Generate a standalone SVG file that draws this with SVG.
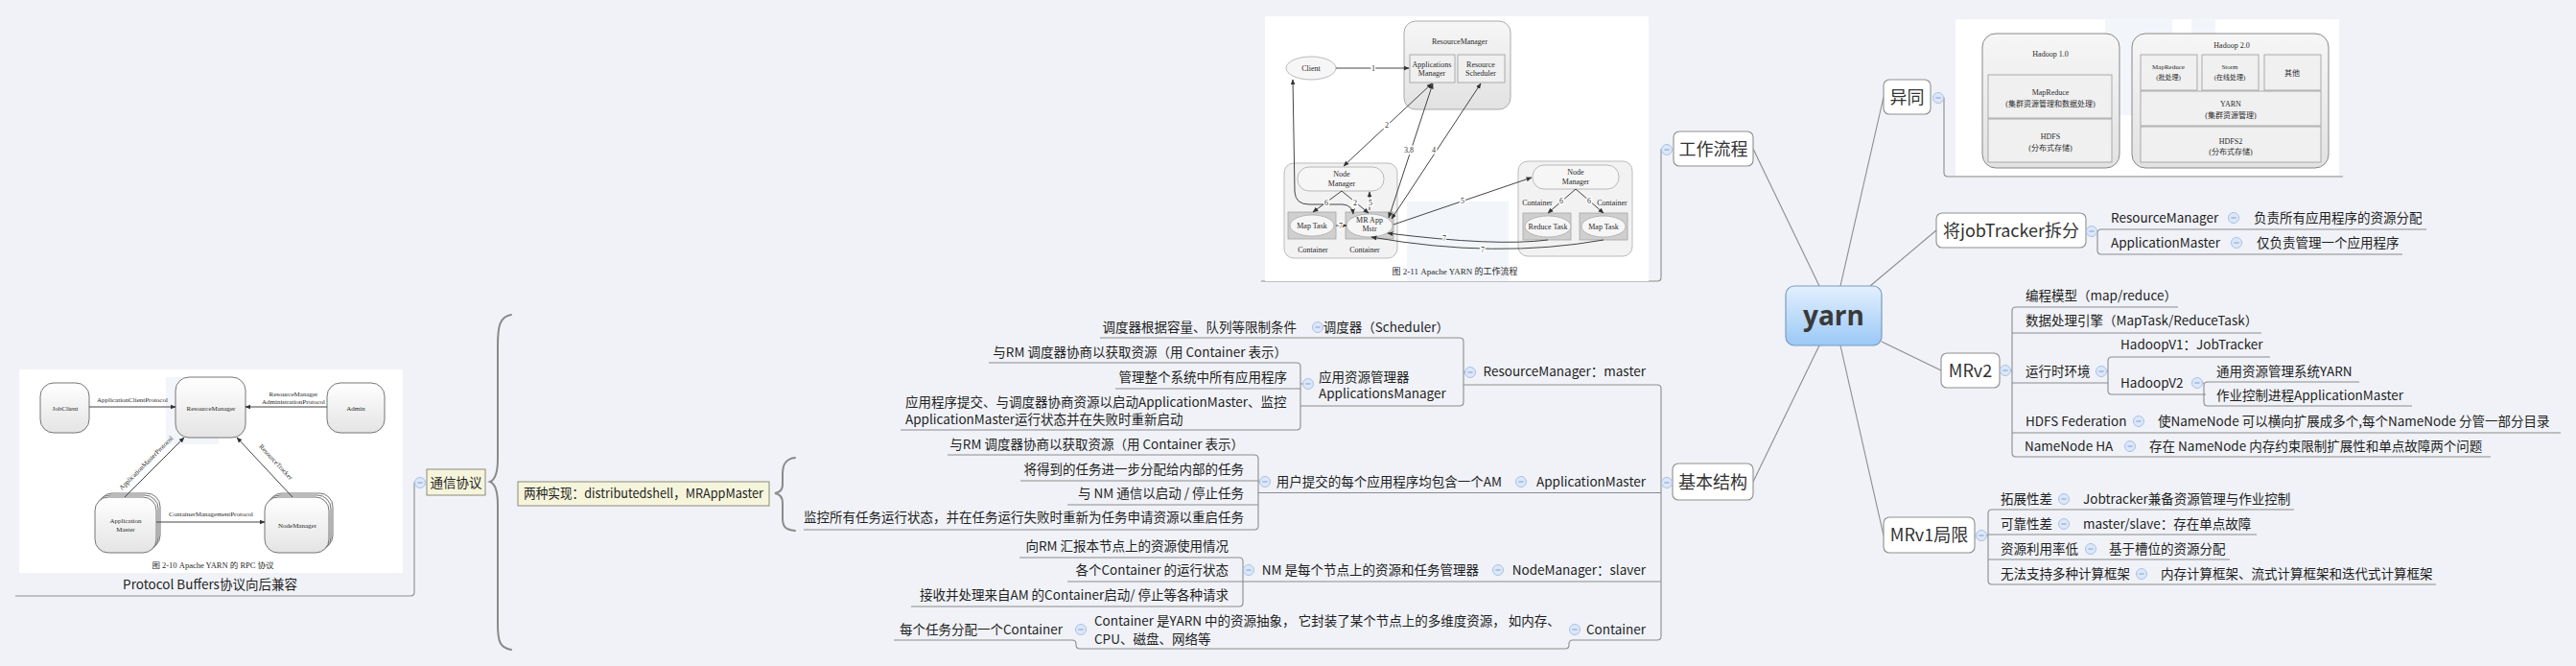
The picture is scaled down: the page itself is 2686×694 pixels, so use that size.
<svg xmlns="http://www.w3.org/2000/svg" xmlns:xlink="http://www.w3.org/1999/xlink" width="2686" height="694" viewBox="0 0 2686 694">
<style>
.ln{fill:none;stroke:#8c8c8c;stroke-width:1.1}
.tp{fill:#fff;stroke:#8f8f8f;stroke-width:1.1}
.tt{font-family:"Noto Sans CJK SC","Noto Sans",sans-serif;font-size:18px;fill:#333;text-anchor:middle}
.s{font-family:"Noto Sans CJK SC","Noto Sans",sans-serif;font-size:13.5px;fill:#1e1e1e}
.e{text-anchor:end}
.cb{fill:#f6f5dc;stroke:#8a8a7a;stroke-width:1}
.img{fill:#fff}
.ser{font-family:"Liberation Serif","Noto Sans CJK SC",serif;fill:#2a2a2a;text-anchor:middle}
.w8{font-size:8px}
.w7{font-size:7px}
.lb{font-family:"Liberation Serif",serif;font-size:8px;fill:#333;text-anchor:middle;paint-order:stroke;stroke:#fff;stroke-width:3}
.al{fill:none;stroke:#444;stroke-width:1}
.bx{fill:#f0f0f0;stroke:#9a9a9a;stroke-width:0.8}
.gb{fill:#cfcfcf;stroke:#a5a5a5;stroke-width:0.8}
.el{fill:#f6f6f6;stroke:#aaa;stroke-width:0.8}
.rb{fill:url(#rg);stroke:#666;stroke-width:0.9}
.br{fill:none;stroke:#8a8a8a;stroke-width:2;stroke-linecap:round}
</style>
<defs>
<linearGradient id="yg" x1="0" y1="0" x2="0" y2="1"><stop offset="0" stop-color="#e3f0fe"/><stop offset="1" stop-color="#9ac8f6"/></linearGradient>
<linearGradient id="gg" x1="0" y1="0" x2="0" y2="1"><stop offset="0" stop-color="#f6f6f6"/><stop offset="1" stop-color="#e2e2e2"/></linearGradient>
<linearGradient id="rg" x1="0" y1="0" x2="0" y2="1"><stop offset="0" stop-color="#ffffff"/><stop offset="1" stop-color="#e4e4e4"/></linearGradient>
<marker id="ah" viewBox="0 0 10 10" refX="9" refY="5" markerWidth="6" markerHeight="6" markerUnits="userSpaceOnUse" orient="auto-start-reverse"><path d="M0,1 L10,5 L0,9 z" fill="#333"/></marker>
<g id="cl"><circle r="5.5" fill="#dce7f8" stroke="#a9c1e7" stroke-width="1"/><path d="M-2.6,0 H2.6" stroke="#7f9fd3" stroke-width="1"/></g>
</defs>
<rect width="2686" height="694" fill="#f0f2f7"/>

<g id="connectors">
<path class="ln" d="M1897,298 L1828,155"/>
<path class="ln" d="M1919,298 L1964,101"/>
<path class="ln" d="M1950,298 L2019,240"/>
<path class="ln" d="M1962,356 L2024,386"/>
<path class="ln" d="M1897,360 L1828,502"/>
<path class="ln" d="M1919,360 L1964,558"/>
<path class="ln" d="M2026,102 H2027 V180 Q2027,184 2031,184 H2443"/>
<path class="ln" d="M1733,156 H1732 V289 Q1732,293 1728,293 H1315"/>
<path class="ln" d="M433,503 H432 V617 Q432,621 428,621 H16"/>
<path class="ln" d="M2186,241 H2187"/>
<path class="ln" d="M2530,239 H2191 Q2187,239 2187,243 V261 Q2187,265 2191,265 H2505"/>
<path class="ln" d="M2096,386 H2098"/>
<path class="ln" d="M2271,320 H2102 Q2098,320 2098,324 V472 Q2098,476 2102,476 H2597"/>
<path class="ln" d="M2098,347 H2358"/>
<path class="ln" d="M2098,399 H2198"/>
<path class="ln" d="M2196,387 H2198"/>
<path class="ln" d="M2367,372 H2202 Q2198,372 2198,376 V407 Q2198,411 2202,411 H2300"/>
<path class="ln" d="M2296,399 H2298"/>
<path class="ln" d="M2460,398 H2302 Q2298,398 2298,402 V419 Q2298,423 2302,423 H2515"/>
<path class="ln" d="M2098,451 H2670"/>
<path class="ln" d="M2071,558 H2073"/>
<path class="ln" d="M2392,531 H2077 Q2073,531 2073,535 V605 Q2073,609 2077,609 H2540"/>
<path class="ln" d="M2073,557 H2353"/>
<path class="ln" d="M2073,583 H2325"/>
<path class="ln" d="M1733,503 H1732"/>
<path class="ln" d="M1526,401 H1728 Q1732,401 1732,405 V663 Q1732,667 1728,667 H1640 Q1636,667 1636,671 V672 Q1636,676 1632,676 H1126 Q1122,676 1122,672 V671 Q1122,667 1118,667 H932"/>
<path class="ln" d="M1312,513.5 H1732"/>
<path class="ln" d="M1113,606 H1732"/>
<path class="ln" d="M1528,388 H1526"/>
<path class="ln" d="M1147,352 H1522 Q1526,352 1526,356 V419 Q1526,423 1522,423 H1356"/>
<path class="ln" d="M1359,400 H1356"/>
<path class="ln" d="M1031,378 H1352 Q1356,378 1356,382 V444 Q1356,448 1352,448 H939"/>
<path class="ln" d="M1163,405 H1356"/>
<path class="ln" d="M1314,502 H1312"/>
<path class="ln" d="M988,474 H1308 Q1312,474 1312,478 V548 Q1312,552 1308,552 H838"/>
<path class="ln" d="M1064,501 H1312"/>
<path class="ln" d="M1113,526 H1312"/>
<path class="ln" d="M1297,594 H1296"/>
<path class="ln" d="M1063,581 H1292 Q1296,581 1296,585 V628 Q1296,632 1292,632 H950"/>
<path class="br" d="M533,328 C521,330 519,340 519,360 L519,478 C519,494 516,500 511,502 C516,504 519,510 519,526 L519,650 C519,668 521,675 533,677"/>
<path class="br" d="M829,477 C819,478 816,484 816,494 L816,505 C816,511 813,513 808,514 C813,515 816,518 816,524 L816,540 C816,549 819,552 829,553"/>
</g>

<g id="yarn"><rect x="1862" y="298" width="100" height="62" rx="9" fill="url(#yg)" stroke="#7a9cc0" stroke-width="1.2"/><text x="1912" y="339" font-family="Open Sans,'Noto Sans',sans-serif" font-size="28" font-weight="bold" fill="#3a3a3a" text-anchor="middle">yarn</text></g>

<g id="gongzuoliucheng"><rect class="tp" x="1745" y="137" width="83" height="36" rx="6"/><text class="tt" x="1786.5" y="161.5">工作流程</text><use href="#cl" x="1738" y="156"/></g>
<g id="yitong"><rect class="tp" x="1964" y="83" width="49" height="36" rx="6"/><text class="tt" x="1988.5" y="107.5">异同</text><use href="#cl" x="2021" y="102"/></g>
<g id="chaifen"><rect class="tp" x="2019" y="222" width="156" height="36" rx="6"/><text class="tt" x="2097" y="246.5">将jobTracker拆分</text><use href="#cl" x="2181" y="241"/></g>
<g id="mrv2"><rect class="tp" x="2024" y="368" width="61" height="36" rx="6"/><text class="tt" x="2054.5" y="392.5">MRv2</text><use href="#cl" x="2091" y="386"/></g>
<g id="jibenjiegou"><rect class="tp" x="1744" y="483" width="84" height="38" rx="6"/><text class="tt" x="1786" y="508.5">基本结构</text><use href="#cl" x="1738" y="503"/></g>
<g id="mrv1"><rect class="tp" x="1964" y="539" width="95" height="37" rx="6"/><text class="tt" x="2011.5" y="564">MRv1局限</text><use href="#cl" x="2066" y="558"/></g>

<g id="jt-children">
<text class="s" x="2201" y="232">ResourceManager</text><use href="#cl" x="2329" y="227"/><text class="s" x="2350" y="232">负责所有应用程序的资源分配</text>
<text class="s" x="2201" y="258">ApplicationMaster</text><use href="#cl" x="2332" y="253"/><text class="s" x="2353" y="258">仅负责管理一个应用程序</text>
</g>

<g id="mrv2-children">
<text class="s" x="2112" y="313">编程模型（map/reduce）</text>
<text class="s" x="2112" y="339">数据处理引擎（MapTask/ReduceTask）</text>
<text class="s" x="2112" y="392">运行时环境</text><use href="#cl" x="2191" y="387"/>
<text class="s" x="2211" y="364">HadoopV1：JobTracker</text>
<text class="s" x="2211" y="404">HadoopV2</text><use href="#cl" x="2291" y="399"/>
<text class="s" x="2311" y="392">通用资源管理系统YARN</text>
<text class="s" x="2311" y="417">作业控制进程ApplicationMaster</text>
<text class="s" x="2112" y="444">HDFS Federation</text><use href="#cl" x="2230" y="439"/><text class="s" x="2250" y="444">使NameNode 可以横向扩展成多个,每个NameNode 分管一部分目录</text>
<text class="s" x="2111" y="470">NameNode HA</text><use href="#cl" x="2221" y="465"/><text class="s" x="2241" y="470">存在 NameNode 内存约束限制扩展性和单点故障两个问题</text>
</g>

<g id="mrv1-children">
<text class="s" x="2086" y="525">拓展性差</text><use href="#cl" x="2152" y="520"/><text class="s" x="2172" y="525">Jobtracker兼备资源管理与作业控制</text>
<text class="s" x="2086" y="551">可靠性差</text><use href="#cl" x="2152" y="546"/><text class="s" x="2172" y="551">master/slave：存在单点故障</text>
<text class="s" x="2086" y="577">资源利用率低</text><use href="#cl" x="2180" y="572"/><text class="s" x="2199" y="577">基于槽位的资源分配</text>
<text class="s" x="2086" y="603">无法支持多种计算框架</text><use href="#cl" x="2233" y="598"/><text class="s" x="2253" y="603">内存计算框架、流式计算框架和迭代式计算框架</text>
</g>

<g id="rm-master">
<text class="s e" x="1716" y="392">ResourceManager：master</text><use href="#cl" x="1533" y="388"/>
<text class="s e" x="1511" y="346">调度器（Scheduler）</text><use href="#cl" x="1374" y="341"/>
<text class="s e" x="1352" y="346">调度器根据容量、队列等限制条件</text>
<text class="s" x="1375" y="398">应用资源管理器</text><text class="s" x="1375" y="415">ApplicationsManager</text><use href="#cl" x="1364" y="400"/>
<text class="s e" x="1342" y="372">与RM 调度器协商以获取资源（用 Container 表示）</text>
<text class="s e" x="1342" y="398">管理整个系统中所有应用程序</text>
<text class="s" x="944" y="424">应用程序提交、与调度器协商资源以启动ApplicationMaster、监控</text>
<text class="s" x="944" y="442">ApplicationMaster运行状态并在失败时重新启动</text>
</g>

<g id="am">
<text class="s e" x="1716" y="507">ApplicationMaster</text><use href="#cl" x="1586" y="502"/>
<text class="s e" x="1566" y="507">用户提交的每个应用程序均包含一个AM</text><use href="#cl" x="1319" y="502"/>
<text class="s e" x="1297" y="468">与RM 调度器协商以获取资源（用 Container 表示）</text>
<text class="s e" x="1297" y="494">将得到的任务进一步分配给内部的任务</text>
<text class="s e" x="1297" y="519">与 NM 通信以启动 / 停止任务</text>
<text class="s e" x="1297" y="544">监控所有任务运行状态，并在任务运行失败时重新为任务申请资源以重启任务</text>
</g>

<g id="nm">
<text class="s e" x="1716" y="599">NodeManager：slaver</text><use href="#cl" x="1562" y="594"/>
<text class="s e" x="1542" y="599">NM 是每个节点上的资源和任务管理器</text><use href="#cl" x="1302" y="594"/>
<text class="s e" x="1281" y="574">向RM 汇报本节点上的资源使用情况</text>
<text class="s e" x="1281" y="599">各个Container 的运行状态</text>
<text class="s e" x="1281" y="625">接收并处理来自AM 的Container启动/ 停止等各种请求</text>
</g>

<g id="container">
<text class="s e" x="1716" y="661">Container</text><use href="#cl" x="1642" y="656"/>
<text class="s" x="1141" y="652">Container 是YARN 中的资源抽象， 它封装了某个节点上的多维度资源， 如内存、</text>
<text class="s" x="1141" y="671">CPU、磁盘、网络等</text><use href="#cl" x="1127" y="656"/>
<text class="s e" x="1108" y="661">每个任务分配一个Container</text>
</g>

<g id="tongxin"><rect class="cb" x="445" y="489" width="61" height="27"/><text class="s" x="475.5" y="507.5" text-anchor="middle" font-size="13">通信协议</text><use href="#cl" x="438" y="503"/></g>
<g id="liangzhong"><rect class="cb" x="540" y="502" width="262" height="25"/><text class="s" x="546" y="519" font-size="13" textLength="250" lengthAdjust="spacingAndGlyphs">两种实现：distributedshell，MRAppMaster</text></g>

<g id="hadoop-image">
<rect class="img" x="2039" y="20" width="400" height="163"/>
<rect x="2195" y="20" width="70" height="100" fill="#e6ecf6" opacity="0.5"/>
<rect x="2285" y="20" width="25" height="40" fill="#e6ecf6" opacity="0.5"/>
<rect x="2067" y="35" width="143" height="140" rx="14" fill="url(#gg)" stroke="#888"/>
<text class="ser w8" x="2138" y="59">Hadoop 1.0</text>
<rect class="bx" x="2073" y="78" width="129" height="45"/>
<text class="ser w8" x="2138" y="99">MapReduce</text><text class="ser w8" x="2138" y="111">(集群资源管理和数据处理)</text>
<rect class="bx" x="2073" y="124" width="129" height="45"/>
<text class="ser w8" x="2138" y="145">HDFS</text><text class="ser w8" x="2138" y="157">(分布式存储)</text>
<rect x="2223" y="35" width="205" height="140" rx="14" fill="url(#gg)" stroke="#888"/>
<text class="ser w8" x="2327" y="50">Hadoop 2.0</text>
<rect class="bx" x="2232" y="57" width="59" height="37"/>
<text class="ser w7" x="2261" y="72">MapReduce</text><text class="ser w7" x="2261" y="83">(批处理)</text>
<rect class="bx" x="2296" y="57" width="59" height="37"/>
<text class="ser w7" x="2325" y="72">Storm</text><text class="ser w7" x="2325" y="83">(在线处理)</text>
<rect class="bx" x="2361" y="57" width="59" height="37"/>
<text class="ser w8" x="2390" y="79">其他</text>
<rect class="bx" x="2232" y="95" width="188" height="36"/>
<text class="ser w8" x="2326" y="111">YARN</text><text class="ser w8" x="2326" y="123">(集群资源管理)</text>
<rect class="bx" x="2232" y="132" width="188" height="37"/>
<text class="ser w8" x="2326" y="150">HDFS2</text><text class="ser w8" x="2326" y="161">(分布式存储)</text>
</g>

<g id="workflow-image">
<rect class="img" x="1319" y="17" width="400" height="276"/>
<rect x="1467" y="210" width="106" height="83" fill="#e6ecf6" opacity="0.5"/>
<rect x="1464" y="22" width="111" height="92" rx="12" fill="url(#gg)" stroke="#aaa"/>
<text class="ser w8" x="1522" y="46">ResourceManager</text>
<rect class="bx" x="1470" y="57" width="47" height="29"/>
<text class="ser w8" x="1493" y="70">Applications</text><text class="ser w8" x="1493" y="79">Manager</text>
<rect class="bx" x="1520" y="57" width="49" height="29"/>
<text class="ser w8" x="1544" y="70">Resource</text><text class="ser w8" x="1544" y="79">Scheduler</text>
<ellipse class="el" cx="1367" cy="71" rx="26" ry="12"/>
<text class="ser w8" x="1367" y="74">Client</text>
<rect x="1339" y="170" width="118" height="99" rx="10" fill="#f2f2f2" stroke="#bbb"/>
<rect class="el" x="1353" y="174" width="90" height="25" rx="12"/>
<text class="ser w8" x="1399" y="184">Node</text><text class="ser w8" x="1399" y="194">Manager</text>
<rect class="gb" x="1343" y="221" width="50" height="28"/>
<ellipse class="el" cx="1368" cy="235" rx="23" ry="11"/>
<text class="ser w8" x="1368" y="238">Map Task</text>
<rect class="gb" x="1403" y="221" width="50" height="28"/>
<ellipse class="el" cx="1428" cy="235" rx="24" ry="12"/>
<text class="ser w8" x="1428" y="232">MR App</text><text class="ser w8" x="1428" y="241">Mstr</text>
<text class="ser w8" x="1369" y="263">Container</text><text class="ser w8" x="1423" y="263">Container</text>
<rect x="1583" y="168" width="119" height="99" rx="10" fill="#f2f2f2" stroke="#bbb"/>
<rect class="el" x="1598" y="172" width="90" height="25" rx="12"/>
<text class="ser w8" x="1643" y="182">Node</text><text class="ser w8" x="1643" y="192">Manager</text>
<rect class="gb" x="1588" y="222" width="50" height="28"/>
<ellipse class="el" cx="1614" cy="236" rx="24" ry="11"/>
<text class="ser w8" x="1614" y="239">Reduce Task</text>
<rect class="gb" x="1647" y="222" width="50" height="28"/>
<ellipse class="el" cx="1672" cy="236" rx="23" ry="11"/>
<text class="ser w8" x="1672" y="239">Map Task</text>
<text class="ser w8" x="1603" y="214">Container</text><text class="ser w8" x="1681" y="214">Container</text>
<path class="al" d="M1393,71 L1469,71" marker-end="url(#ah)"/>
<path class="al" d="M1493,87 L1401,173" marker-start="url(#ah)" marker-end="url(#ah)"/>
<path class="al" d="M1494,87 L1448,227" marker-start="url(#ah)" marker-end="url(#ah)"/>
<path class="al" d="M1544,87 L1451,228" marker-start="url(#ah)" marker-end="url(#ah)"/>
<path class="al" d="M1348,83 L1350,200 Q1351,213 1365,213 L1400,213 Q1410,214 1411,223" marker-start="url(#ah)" marker-end="url(#ah)"/>
<path class="al" d="M1399,199 L1369,221" marker-end="url(#ah)"/>
<path class="al" d="M1399,199 L1427,222" marker-end="url(#ah)"/>
<path class="al" d="M1428,219 L1428,200" marker-end="url(#ah)"/>
<path class="al" d="M1393,235 L1404,235" marker-end="url(#ah)"/>
<path class="al" d="M1453,234 L1597,185" marker-end="url(#ah)"/>
<path class="al" d="M1643,197 L1614,222" marker-end="url(#ah)"/>
<path class="al" d="M1643,197 L1672,222" marker-end="url(#ah)"/>
<path class="al" d="M1614,250 Q1560,257 1447,243" marker-end="url(#ah)"/>
<path class="al" d="M1672,250 Q1560,270 1430,247" marker-end="url(#ah)"/>
<text class="lb" x="1432" y="74">1</text>
<text class="lb" x="1446" y="133">2</text>
<text class="lb" x="1469" y="159">3,8</text>
<text class="lb" x="1495" y="159">4</text>
<text class="lb" x="1383" y="214">6</text>
<text class="lb" x="1413" y="214">2</text>
<text class="lb" x="1429" y="214">5</text>
<text class="lb" x="1398" y="238">7</text>
<text class="lb" x="1525" y="212">5</text>
<text class="lb" x="1628" y="212">6</text>
<text class="lb" x="1657" y="212">6</text>
<text class="lb" x="1506" y="251">7</text>
<text class="lb" x="1546" y="263">7</text>
<text class="ser" x="1517" y="286" font-size="9">图 2-11    Apache YARN 的工作流程</text>
</g>

<g id="rpc-image">
<rect class="img" x="20" y="385" width="400" height="212"/>
<rect x="173" y="393" width="55" height="70" fill="#e6ecf6" opacity="0.5"/>
<rect class="rb" x="42" y="399" width="51" height="52" rx="14"/>
<text class="ser w7" x="68" y="428">JobClient</text>
<rect class="rb" x="183" y="393" width="73" height="63" rx="14"/>
<text class="ser w7" x="220" y="428">ResourceManager</text>
<rect class="rb" x="341" y="399" width="60" height="52" rx="14"/>
<text class="ser w7" x="371" y="428">Admin</text>
<rect class="rb" x="103" y="514" width="64" height="58" rx="14"/>
<rect class="rb" x="101" y="516" width="64" height="58" rx="14"/>
<rect class="rb" x="99" y="518" width="64" height="58" rx="14"/>
<text class="ser w7" x="131" y="545">Application</text><text class="ser w7" x="131" y="554">Master</text>
<rect class="rb" x="280" y="514" width="67" height="58" rx="14"/>
<rect class="rb" x="278" y="516" width="67" height="58" rx="14"/>
<rect class="rb" x="276" y="518" width="67" height="58" rx="14"/>
<text class="ser w7" x="310" y="550">NodeManager</text>
<path class="al" d="M93,424 L183,424" marker-end="url(#ah)"/>
<path class="al" d="M341,424 L256,424" marker-end="url(#ah)"/>
<path class="al" d="M130,518 L192,456" marker-end="url(#ah)"/>
<path class="al" d="M305,518 L247,456" marker-end="url(#ah)"/>
<path class="al" d="M163,544 L276,544" marker-end="url(#ah)"/>
<text class="ser w7" x="138" y="419">ApplicationClientProtocol</text>
<text class="ser w7" x="306" y="413">ResourceManager</text>
<text class="ser w7" x="306" y="421">AdministrationProtocol</text>
<text class="ser w7" x="154" y="484" transform="rotate(-45 154 484)">ApplicationMasterProtocol</text>
<text class="ser w7" x="286" y="483" transform="rotate(47 286 483)">ResourceTracker</text>
<text class="ser w7" x="220" y="538">ContainerManagementProtocol</text>
<text class="ser" x="222" y="592" font-size="8.5">图 2-10    Apache YARN 的 RPC 协议</text>
</g>
<g id="protobuf"><text class="s" x="219" y="614" text-anchor="middle" font-size="14">Protocol Buffers协议向后兼容</text></g>
</svg>
